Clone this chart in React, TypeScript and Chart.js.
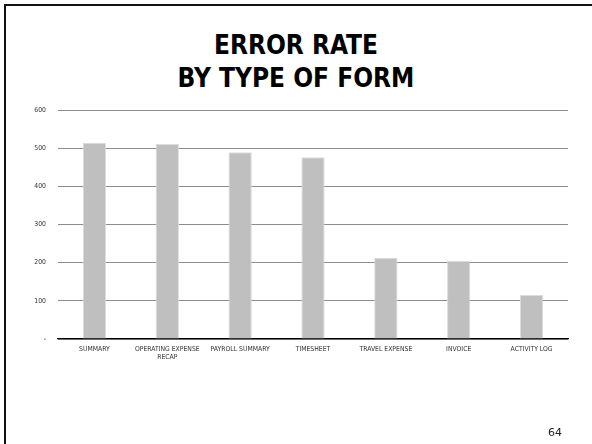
import React, { useEffect, useRef } from "react";
import { Chart, registerables } from "chart.js";

Chart.register(...registerables);

const categories: (string | string[])[] = [
  "SUMMARY",
  ["OPERATING EXPENSE", "RECAP"],
  "PAYROLL SUMMARY",
  "TIMESHEET",
  "TRAVEL EXPENSE",
  "INVOICE",
  "ACTIVITY LOG",
];
const errorCounts = [514, 511, 489, 476, 213, 205, 115];
const yTicks = [0, 100, 200, 300, 400, 500, 600];
const titleLines = ["ERROR RATE", "BY TYPE OF FORM"];
const pageNumber = "64";

export default function App() {
  const canvasRef = useRef<HTMLCanvasElement | null>(null);

  useEffect(() => {
    document.body.style.margin = "0";
    const ctx = canvasRef.current!;
    const tickFont = { family: "DejaVu Sans Condensed", size: 6.8 };
    const chart = new Chart(ctx, {
      type: "bar",
      data: {
        labels: categories,
        datasets: [
          {
            data: errorCounts,
            backgroundColor: "#BFBFBF",
            borderColor: "#DCDCDC",
            borderWidth: 1,
            barPercentage: 0.32,
            categoryPercentage: 1,
          },
        ],
      },
      options: {
        animation: false,
        responsive: false,
        maintainAspectRatio: false,
        layout: { padding: { top: 110, right: 24, left: 0, bottom: 0 } },
        plugins: {
          legend: { display: false },
          title: { display: false },
          tooltip: { enabled: false },
        },
        scales: {
          x: {
            grid: { display: false, drawTicks: false },
            border: { display: true, color: "#000", width: 1.2 },
            ticks: {
              font: tickFont,
              color: "#333",
              maxRotation: 0,
              autoSkip: false,
              padding: 6,
            },
            afterFit: (s: any) => {
              s.height = 105;
            },
          },
          y: {
            min: 0,
            max: 600,
            afterBuildTicks: (s: any) => {
              s.ticks = yTicks.map((v) => ({ value: v }));
            },
            grid: { color: "#8C8C8C", lineWidth: 1, drawTicks: false },
            border: { display: false },
            ticks: {
              font: tickFont,
              color: "#333",
              padding: 12,
              callback: (v: any) => (Number(v) === 0 ? "-" : String(v)),
            },
            afterFit: (s: any) => {
              s.width = 58;
            },
          },
        },
      },
    });
    return () => chart.destroy();
  }, []);

  return (
    <div
      style={{
        position: "relative",
        width: 592,
        height: 444,
        overflow: "hidden",
        background: "#fff",
      }}
    >
      <div
        style={{
          position: "absolute",
          left: 4,
          top: 4,
          width: 700,
          height: 600,
          borderTop: "2.5px solid #111",
          borderLeft: "2.5px solid #111",
        }}
      />
      <div
        style={{
          position: "absolute",
          left: 0,
          top: 29,
          width: 592,
          textAlign: "center",
          fontFamily: "DejaVu Sans Condensed",
          fontWeight: "bold",
          fontSize: 26,
          lineHeight: "33px",
          color: "#000",
        }}
      >
        {titleLines.map((t, i) => (
          <div key={i}>{t}</div>
        ))}
      </div>
      <canvas
        ref={canvasRef}
        width={592}
        height={444}
        style={{ position: "absolute", left: 0, top: 0 }}
      />
      <div
        style={{
          position: "absolute",
          left: 548,
          top: 426,
          fontFamily: "DejaVu Sans",
          fontSize: 11,
          color: "#222",
        }}
      >
        {pageNumber}
      </div>
    </div>
  );
}
